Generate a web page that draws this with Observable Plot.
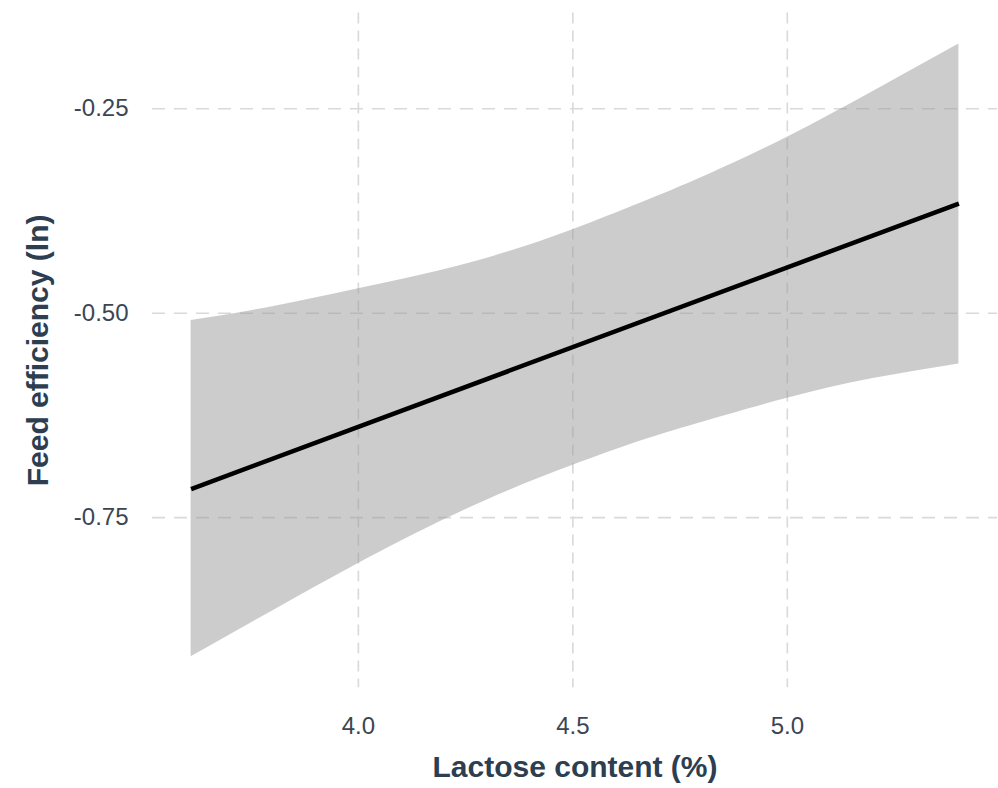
<!DOCTYPE html>
<html>
<head>
<meta charset="utf-8">
<script src="https://cdn.jsdelivr.net/npm/d3@7"></script>
<script src="https://cdn.jsdelivr.net/npm/@observablehq/plot@0.6"></script>
<style>
  html, body { margin: 0; padding: 0; background: #fff; }
  #chart svg { display: block; }
</style>
</head>
<body>
<div id="chart"></div>
<script>
// Confidence band
const bandX     = [3.61, 3.80, 4.00, 4.19, 4.35, 4.50, 4.66, 4.81, 5.00, 5.20, 5.40];
const bandUpper = [-0.509, -0.492, -0.470, -0.448, -0.425, -0.398, -0.365, -0.332, -0.285, -0.229, -0.171];
const bandLower = [-0.920, -0.864, -0.806, -0.755, -0.717, -0.686, -0.656, -0.632, -0.604, -0.580, -0.562];
// Fitted line
const lineX = [3.61, 5.40];
const lineY = [-0.715, -0.366];
// Ticks
const xTicks = [4.0, 4.5, 5.0];
const yTicks = [-0.75, -0.50, -0.25];
const xTitle = "Lactose content (%)";
const yTitle = "Feed efficiency (ln)";

const band = bandX.map((x, i) => ({x, lo: bandLower[i], hi: bandUpper[i]}));
const fit = lineX.map((x, i) => ({x, y: lineY[i]}));

const font = "'Liberation Sans', Arial, Helvetica, sans-serif";
const tickColor = "#3b4652";
const titleColor = "#2c3e50";

const chart = Plot.plot({
  width: 998,
  height: 788,
  marginLeft: 152,
  marginRight: 1,
  marginTop: 12.5,
  marginBottom: 100.7,
  style: {fontFamily: font, background: "#fff"},
  x: {domain: [3.52, 5.49]},
  y: {domain: [-0.958, -0.133]},
  marks: [
    Plot.gridX(xTicks, {stroke: "#d9d9d9", strokeOpacity: 1, strokeWidth: 1.6, strokeDasharray: "11,7"}),
    Plot.gridY(yTicks, {stroke: "#d9d9d9", strokeOpacity: 1, strokeWidth: 1.6, strokeDasharray: "13,9"}),
    Plot.areaY(band, {x: "x", y1: "lo", y2: "hi", fill: "#999999", fillOpacity: 0.5, curve: "natural"}),
    Plot.line(fit, {x: "x", y: "y", stroke: "black", strokeWidth: 4.5, strokeLinecap: "butt"}),
    Plot.axisX({ticks: xTicks, tickSize: 0, tickPadding: 29, fontSize: 24, fill: tickColor,
                tickFormat: d => d.toFixed(1), label: null}),
    Plot.axisY({ticks: yTicks, tickSize: 0, tickPadding: 24, fontSize: 24, fill: tickColor,
                tickFormat: d => d.toFixed(2), label: null}),
    Plot.text([xTitle], {frameAnchor: "bottom", dy: 80, text: d => d, fontSize: 30, fontWeight: "bold",
                fill: titleColor, lineAnchor: "middle", textAnchor: "middle"}),
    Plot.text([yTitle], {frameAnchor: "left", dx: -114, text: d => d, rotate: -90, fontSize: 30,
                fontWeight: "bold", fill: titleColor, lineAnchor: "middle", textAnchor: "middle"})
  ]
});
document.getElementById("chart").appendChild(chart);
</script>
</body>
</html>
